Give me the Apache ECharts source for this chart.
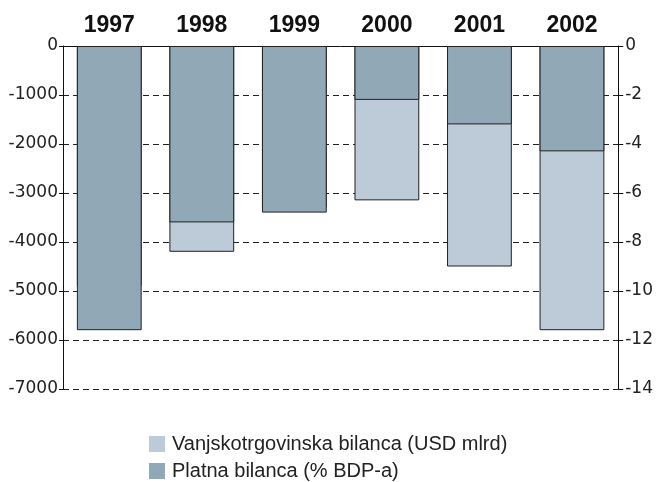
<!DOCTYPE html>
<html>
<head>
<meta charset="utf-8">
<script src="https://cdn.jsdelivr.net/npm/echarts@6/dist/echarts.min.js"></script>
<style>
  html, body { margin: 0; padding: 0; background: #fff; }
  #chart { width: 656px; height: 482px; }
</style>
</head>
<body>
<div id="chart"></div>
<script>
var years = ["1997", "1998", "1999", "2000", "2001", "2002"];
// USD mln (left axis); 1997 and 1999 are hidden behind the dark bars
var tradeBalance = [-4900, -4200, -3300, -3150, -4500, -5800];
// % of GDP (right axis)
var paymentBalance = [-11.6, -7.2, -6.8, -2.2, -3.2, -4.3];

var chart = echarts.init(document.getElementById("chart"));
var font = "Liberation Sans";
var tickFont = "DejaVu Sans";

chart.setOption({
  animation: false,
  grid: { left: 63, right: 35, top: 46, bottom: 93 },
  legend: {
    orient: "vertical",
    left: 149,
    top: 434,
    height: 80,
    padding: 0,
    icon: "rect",
    itemWidth: 16,
    itemHeight: 16,
    itemGap: 7,
    itemStyle: { borderWidth: 0 },
    textStyle: {
      fontFamily: font,
      fontSize: 20,
      lineHeight: 20,
      color: "#222",
      padding: [0, 0, 0, 2]
    },
    data: ["Vanjskotrgovinska bilanca (USD mlrd)", "Platna bilanca (% BDP-a)"]
  },
  xAxis: {
    type: "category",
    position: "top",
    data: years,
    axisLine: { lineStyle: { color: "#111", width: 1 } },
    axisTick: { inside: true, length: 6, lineStyle: { color: "#111" } },
    axisLabel: {
      fontFamily: font,
      fontSize: 23,
      fontWeight: "bold",
      color: "#111",
      margin: 9
    }
  },
  yAxis: [
    {
      type: "value",
      min: -7000,
      max: 0,
      interval: 1000,
      axisLine: { show: true, lineStyle: { color: "#111" } },
      axisTick: { show: true, length: 4, lineStyle: { color: "#111" } },
      axisLabel: {
        fontFamily: tickFont,
        fontSize: 17,
        color: "#222",
        margin: 5,
        formatter: function (v) { return String(v); }
      },
      splitLine: { lineStyle: { color: "#222", type: [6, 4], width: 1 } }
    },
    {
      type: "value",
      min: -14,
      max: 0,
      interval: 2,
      position: "right",
      axisLine: { show: true, lineStyle: { color: "#111" } },
      axisTick: { show: true, length: 5, lineStyle: { color: "#111" } },
      axisLabel: { fontFamily: tickFont, fontSize: 17, color: "#222", margin: 7 },
      splitLine: { show: false }
    }
  ],
  series: [
    {
      name: "Vanjskotrgovinska bilanca (USD mlrd)",
      type: "bar",
      yAxisIndex: 0,
      barWidth: "70%",
      barGap: "-100%",
      data: tradeBalance,
      itemStyle: { color: "#bccbd7", borderColor: "#222", borderWidth: 1 }
    },
    {
      name: "Platna bilanca (% BDP-a)",
      type: "bar",
      yAxisIndex: 1,
      barWidth: "70%",
      barGap: "-100%",
      data: paymentBalance,
      itemStyle: { color: "#91a8b6", borderColor: "#222", borderWidth: 1 }
    }
  ]
});
</script>
</body>
</html>
